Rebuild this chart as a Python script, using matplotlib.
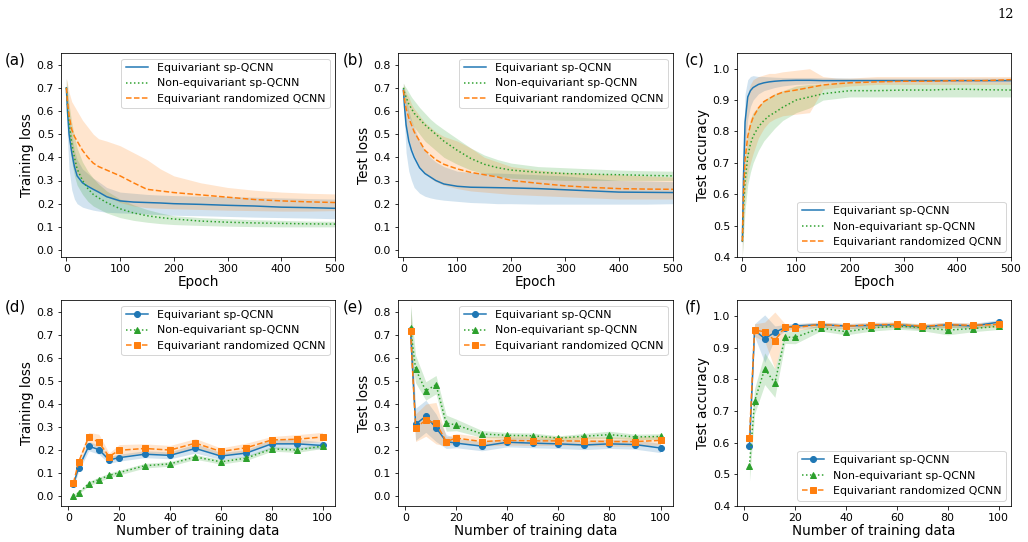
import numpy as np
import matplotlib
matplotlib.use("Agg")
import matplotlib.pyplot as plt

# ---- data ----
names = ["Equivariant sp-QCNN", "Non-equivariant sp-QCNN", "Equivariant randomized QCNN"]

epochs = [0, 2, 5, 10, 15, 20, 30, 40, 50, 60, 75, 100, 125, 150, 175, 200, 250, 300, 350, 400, 450, 500]

# (a) training loss vs epoch
a_eq = [0.70, 0.60, 0.50, 0.42, 0.36, 0.32, 0.29, 0.275, 0.262, 0.25, 0.23, 0.212, 0.207, 0.205, 0.203, 0.20, 0.197, 0.193, 0.19, 0.185, 0.183, 0.18]
a_eq_lo = [0.66, 0.48, 0.35, 0.26, 0.22, 0.20, 0.185, 0.178, 0.172, 0.168, 0.163, 0.16, 0.158, 0.155, 0.153, 0.15, 0.148, 0.145, 0.142, 0.14, 0.138, 0.135]
a_eq_hi = [0.74, 0.68, 0.60, 0.50, 0.43, 0.39, 0.35, 0.33, 0.31, 0.295, 0.27, 0.25, 0.245, 0.24, 0.237, 0.235, 0.232, 0.23, 0.228, 0.225, 0.222, 0.22]
a_ne = [0.70, 0.63, 0.55, 0.46, 0.40, 0.35, 0.30, 0.265, 0.24, 0.225, 0.205, 0.178, 0.16, 0.148, 0.14, 0.134, 0.125, 0.12, 0.117, 0.115, 0.113, 0.112]
a_ne_lo = [0.66, 0.58, 0.48, 0.38, 0.32, 0.28, 0.24, 0.21, 0.19, 0.178, 0.16, 0.14, 0.128, 0.12, 0.114, 0.11, 0.106, 0.103, 0.101, 0.10, 0.10, 0.10]
a_ne_hi = [0.74, 0.69, 0.63, 0.55, 0.49, 0.44, 0.38, 0.34, 0.31, 0.285, 0.255, 0.22, 0.195, 0.175, 0.16, 0.148, 0.14, 0.135, 0.131, 0.128, 0.125, 0.124]
a_rq = [0.70, 0.64, 0.58, 0.52, 0.49, 0.47, 0.43, 0.40, 0.375, 0.36, 0.345, 0.32, 0.29, 0.262, 0.255, 0.248, 0.238, 0.228, 0.218, 0.212, 0.208, 0.205]
a_rq_lo = [0.66, 0.56, 0.47, 0.40, 0.36, 0.33, 0.30, 0.28, 0.265, 0.25, 0.23, 0.205, 0.19, 0.183, 0.18, 0.178, 0.175, 0.172, 0.17, 0.168, 0.168, 0.17]
a_rq_hi = [0.74, 0.72, 0.68, 0.64, 0.62, 0.60, 0.56, 0.53, 0.50, 0.48, 0.47, 0.45, 0.42, 0.39, 0.35, 0.32, 0.29, 0.27, 0.258, 0.25, 0.245, 0.242]

# (b) test loss vs epoch
b_eq = [0.69, 0.62, 0.54, 0.47, 0.43, 0.40, 0.355, 0.33, 0.315, 0.30, 0.285, 0.275, 0.271, 0.27, 0.269, 0.268, 0.265, 0.26, 0.255, 0.25, 0.249, 0.248]
b_eq_lo = [0.66, 0.55, 0.42, 0.34, 0.30, 0.27, 0.245, 0.232, 0.225, 0.22, 0.215, 0.21, 0.205, 0.203, 0.20, 0.20, 0.198, 0.198, 0.198, 0.198, 0.198, 0.20]
b_eq_hi = [0.72, 0.69, 0.66, 0.60, 0.56, 0.53, 0.47, 0.43, 0.40, 0.38, 0.36, 0.34, 0.335, 0.333, 0.332, 0.33, 0.325, 0.32, 0.31, 0.30, 0.298, 0.295]
b_ne = [0.70, 0.68, 0.66, 0.63, 0.61, 0.59, 0.565, 0.54, 0.52, 0.50, 0.47, 0.43, 0.395, 0.37, 0.355, 0.345, 0.335, 0.33, 0.327, 0.325, 0.322, 0.32]
b_ne_lo = [0.68, 0.65, 0.62, 0.58, 0.55, 0.53, 0.50, 0.47, 0.45, 0.43, 0.40, 0.37, 0.345, 0.33, 0.318, 0.31, 0.305, 0.30, 0.30, 0.30, 0.30, 0.30]
b_ne_hi = [0.72, 0.71, 0.70, 0.68, 0.66, 0.645, 0.615, 0.59, 0.565, 0.545, 0.52, 0.48, 0.44, 0.41, 0.39, 0.375, 0.36, 0.355, 0.35, 0.345, 0.342, 0.34]
b_rq = [0.69, 0.65, 0.61, 0.57, 0.54, 0.51, 0.47, 0.43, 0.41, 0.39, 0.37, 0.35, 0.335, 0.325, 0.315, 0.30, 0.288, 0.277, 0.27, 0.265, 0.263, 0.262]
b_rq_lo = [0.66, 0.60, 0.54, 0.48, 0.44, 0.41, 0.36, 0.33, 0.31, 0.295, 0.28, 0.265, 0.255, 0.25, 0.245, 0.24, 0.235, 0.23, 0.225, 0.22, 0.22, 0.22]
b_rq_hi = [0.72, 0.70, 0.68, 0.66, 0.63, 0.61, 0.58, 0.55, 0.53, 0.51, 0.49, 0.47, 0.44, 0.40, 0.38, 0.36, 0.345, 0.335, 0.33, 0.325, 0.32, 0.315]

# (c) test accuracy vs epoch
c_eq = [0.45, 0.65, 0.83, 0.91, 0.93, 0.94, 0.95, 0.955, 0.958, 0.96, 0.962, 0.963, 0.963, 0.962, 0.962, 0.962, 0.962, 0.962, 0.962, 0.962, 0.962, 0.962]
c_eq_lo = [0.40, 0.55, 0.74, 0.84, 0.88, 0.90, 0.92, 0.93, 0.935, 0.94, 0.945, 0.95, 0.952, 0.954, 0.955, 0.955, 0.955, 0.955, 0.955, 0.955, 0.955, 0.955]
c_eq_hi = [0.50, 0.75, 0.92, 0.965, 0.975, 0.978, 0.975, 0.975, 0.974, 0.973, 0.972, 0.972, 0.972, 0.971, 0.971, 0.97, 0.97, 0.97, 0.97, 0.97, 0.97, 0.97]
c_ne = [0.45, 0.55, 0.64, 0.72, 0.76, 0.785, 0.815, 0.835, 0.85, 0.86, 0.877, 0.90, 0.91, 0.92, 0.925, 0.93, 0.93, 0.932, 0.932, 0.935, 0.933, 0.932]
c_ne_lo = [0.40, 0.47, 0.55, 0.63, 0.67, 0.70, 0.74, 0.77, 0.79, 0.81, 0.835, 0.86, 0.875, 0.90, 0.905, 0.91, 0.91, 0.91, 0.91, 0.91, 0.91, 0.91]
c_ne_hi = [0.50, 0.62, 0.72, 0.80, 0.84, 0.86, 0.88, 0.90, 0.91, 0.92, 0.93, 0.945, 0.95, 0.952, 0.955, 0.955, 0.955, 0.955, 0.955, 0.955, 0.955, 0.955]
c_rq = [0.45, 0.60, 0.71, 0.785, 0.82, 0.845, 0.875, 0.895, 0.905, 0.915, 0.925, 0.932, 0.94, 0.948, 0.952, 0.955, 0.958, 0.96, 0.96, 0.962, 0.962, 0.965]
c_rq_lo = [0.40, 0.50, 0.60, 0.67, 0.70, 0.73, 0.78, 0.81, 0.83, 0.84, 0.85, 0.855, 0.86, 0.935, 0.94, 0.945, 0.95, 0.95, 0.95, 0.95, 0.95, 0.95]
c_rq_hi = [0.50, 0.72, 0.85, 0.92, 0.95, 0.965, 0.975, 0.98, 0.985, 0.985, 0.99, 0.995, 1.0, 0.975, 0.97, 0.97, 0.975, 0.975, 0.975, 0.975, 0.975, 0.975]

ntrain = [2, 4, 8, 12, 16, 20, 30, 40, 50, 60, 70, 80, 90, 100]

# (d) training loss vs number of training data
d_eq = [0.05, 0.12, 0.215, 0.20, 0.155, 0.165, 0.18, 0.175, 0.205, 0.172, 0.185, 0.225, 0.225, 0.218]
d_eq_sd = [0.015, 0.015, 0.02, 0.02, 0.015, 0.015, 0.015, 0.015, 0.02, 0.015, 0.015, 0.02, 0.02, 0.015]
d_ne = [0.0, 0.012, 0.052, 0.07, 0.088, 0.10, 0.13, 0.138, 0.168, 0.147, 0.163, 0.203, 0.198, 0.215]
d_ne_sd = [0.005, 0.005, 0.01, 0.01, 0.01, 0.01, 0.01, 0.01, 0.01, 0.01, 0.01, 0.01, 0.01, 0.01]
d_rq = [0.055, 0.145, 0.255, 0.232, 0.17, 0.197, 0.205, 0.198, 0.228, 0.192, 0.208, 0.242, 0.245, 0.255]
d_rq_sd = [0.015, 0.015, 0.02, 0.035, 0.015, 0.025, 0.02, 0.02, 0.02, 0.015, 0.02, 0.015, 0.02, 0.02]

# (e) test loss vs number of training data
e_eq = [0.72, 0.31, 0.345, 0.295, 0.235, 0.228, 0.215, 0.232, 0.228, 0.225, 0.22, 0.225, 0.222, 0.207]
e_eq_sd = [0.1, 0.07, 0.07, 0.06, 0.03, 0.02, 0.02, 0.02, 0.02, 0.02, 0.02, 0.02, 0.02, 0.02]
e_ne = [0.73, 0.55, 0.455, 0.482, 0.315, 0.307, 0.268, 0.262, 0.26, 0.25, 0.258, 0.265, 0.255, 0.257]
e_ne_sd = [0.1, 0.06, 0.04, 0.04, 0.035, 0.025, 0.015, 0.012, 0.012, 0.01, 0.012, 0.015, 0.012, 0.012]
e_rq = [0.715, 0.295, 0.328, 0.315, 0.235, 0.25, 0.235, 0.24, 0.238, 0.238, 0.237, 0.235, 0.235, 0.24]
e_rq_sd = [0.1, 0.06, 0.07, 0.09, 0.02, 0.02, 0.02, 0.02, 0.02, 0.02, 0.02, 0.02, 0.02, 0.02]

# (f) test accuracy vs number of training data
f_eq = [0.59, 0.955, 0.928, 0.948, 0.963, 0.968, 0.972, 0.968, 0.97, 0.972, 0.965, 0.972, 0.968, 0.98]
f_eq_sd = [0.03, 0.02, 0.075, 0.02, 0.01, 0.008, 0.008, 0.008, 0.008, 0.008, 0.008, 0.008, 0.008, 0.008]
f_ne = [0.527, 0.73, 0.833, 0.788, 0.933, 0.932, 0.962, 0.95, 0.962, 0.968, 0.963, 0.955, 0.96, 0.967]
f_ne_sd = [0.05, 0.04, 0.05, 0.045, 0.02, 0.02, 0.01, 0.01, 0.01, 0.01, 0.01, 0.015, 0.01, 0.01]
f_rq = [0.613, 0.955, 0.95, 0.922, 0.965, 0.963, 0.973, 0.967, 0.972, 0.973, 0.967, 0.972, 0.97, 0.973]
f_rq_sd = [0.03, 0.02, 0.03, 0.09, 0.01, 0.01, 0.008, 0.008, 0.008, 0.008, 0.008, 0.008, 0.008, 0.008]

colors = ["tab:blue", "tab:green", "tab:orange"]
styles = ["-", ":", "--"]
markers = ["o", "^", "s"]

W, H = 1028, 542
plt.rcParams["font.size"] = 11
plt.rcParams["xtick.labelsize"] = 11
plt.rcParams["ytick.labelsize"] = 11
fig = plt.figure(figsize=(W / 72, H / 72), dpi=72)


def box(x0, x1, y0, y1):
    return [x0 / W, 1 - y1 / H, (x1 - x0) / W, (y1 - y0) / H]


cols = [(61, 335), (398, 673), (737, 1011)]
rows = [(53, 257), (300, 506)]


def epoch_panel(ax, series, ylabel, ylim, legloc):
    for (m, lo, hi), c, ls, lab in zip(series, colors, styles, names):
        ax.fill_between(epochs, lo, hi, color=c, alpha=0.2, lw=0)
        ax.plot(epochs, m, color=c, ls=ls, lw=1.5, label=lab)
    ax.set_xlim(-10, 500)
    ax.set_ylim(*ylim)
    ax.set_xlabel("Epoch", fontsize=13.5, labelpad=1)
    ax.set_ylabel(ylabel, fontsize=13.5, labelpad=3)
    ax.legend(loc=legloc, fontsize=11)


def ndata_panel(ax, series, ylabel, ylim, legloc):
    for (m, sd), c, ls, mk, lab in zip(series, colors, styles, markers, names):
        m = np.array(m)
        sd = np.array(sd)
        ax.fill_between(ntrain, m - sd, m + sd, color=c, alpha=0.2, lw=0)
        ax.plot(ntrain, m, color=c, ls=ls, marker=mk, ms=6, lw=1.5, label=lab)
    ax.set_ylim(*ylim)
    ax.set_xticks([0, 20, 40, 60, 80, 100])
    ax.set_xlabel("Number of training data", fontsize=13.5, labelpad=1)
    ax.set_ylabel(ylabel, fontsize=13.5, labelpad=3)
    ax.legend(loc=legloc, fontsize=11)


ax = fig.add_axes(box(*cols[0], *rows[0]))
epoch_panel(ax, [(a_eq, a_eq_lo, a_eq_hi), (a_ne, a_ne_lo, a_ne_hi), (a_rq, a_rq_lo, a_rq_hi)],
            "Training loss", (-0.03, 0.85), "upper right")
ax = fig.add_axes(box(*cols[1], *rows[0]))
epoch_panel(ax, [(b_eq, b_eq_lo, b_eq_hi), (b_ne, b_ne_lo, b_ne_hi), (b_rq, b_rq_lo, b_rq_hi)],
            "Test loss", (-0.03, 0.85), "upper right")
ax = fig.add_axes(box(*cols[2], *rows[0]))
epoch_panel(ax, [(c_eq, c_eq_lo, c_eq_hi), (c_ne, c_ne_lo, c_ne_hi), (c_rq, c_rq_lo, c_rq_hi)],
            "Test accuracy", (0.4, 1.05), "lower right")

ax = fig.add_axes(box(*cols[0], *rows[1]))
ndata_panel(ax, [(d_eq, d_eq_sd), (d_ne, d_ne_sd), (d_rq, d_rq_sd)],
            "Training loss", (-0.045, 0.85), "upper right")
ax = fig.add_axes(box(*cols[1], *rows[1]))
ndata_panel(ax, [(e_eq, e_eq_sd), (e_ne, e_ne_sd), (e_rq, e_rq_sd)],
            "Test loss", (-0.045, 0.85), "upper right")
ax = fig.add_axes(box(*cols[2], *rows[1]))
ndata_panel(ax, [(f_eq, f_eq_sd), (f_ne, f_ne_sd), (f_rq, f_rq_sd)],
            "Test accuracy", (0.4, 1.05), "lower right")

for lab, x, y in [("(a)", 5, 60), ("(b)", 343, 60), ("(c)", 685, 60),
                  ("(d)", 5, 307), ("(e)", 343, 307), ("(f)", 685, 307)]:
    fig.text(x / W, 1 - y / H, lab, fontsize=15, va="center", ha="left")

fig.text(1014 / W, 1 - 14 / H, "12", fontsize=13, family="DejaVu Serif", ha="right", va="center")

fig.savefig("out.png", dpi=72)
